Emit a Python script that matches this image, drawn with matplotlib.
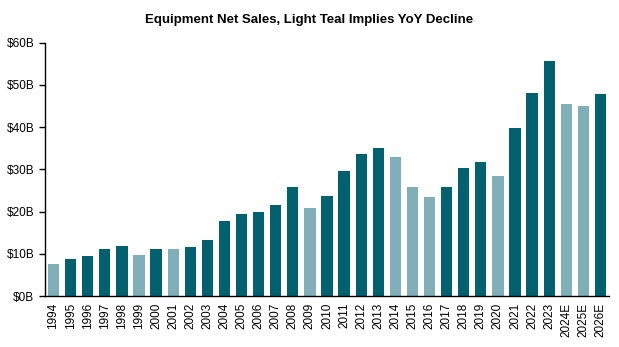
import matplotlib
matplotlib.use("Agg")
import matplotlib.pyplot as plt

plt.rcParams['font.family'] = ['Liberation Sans', 'DejaVu Sans']

years = ["1994", "1995", "1996", "1997", "1998", "1999", "2000", "2001", "2002", "2003",
         "2004", "2005", "2006", "2007", "2008", "2009", "2010", "2011", "2012", "2013",
         "2014", "2015", "2016", "2017", "2018", "2019", "2020", "2021", "2022", "2023",
         "2024E", "2025E", "2026E"]
sales = [7.6, 8.8, 9.5, 11.1, 11.8, 9.7, 11.1, 11.1, 11.6, 13.3,
         17.8, 19.4, 19.9, 21.6, 25.8, 20.9, 23.7, 29.6, 33.6, 35.1,
         32.9, 25.8, 23.5, 25.8, 30.3, 31.8, 28.4, 39.8, 48.1, 55.7,
         45.5, 45.0, 47.9]
decline = [True, False, False, False, False, True, False, True, False, False,
           False, False, False, False, False, True, False, False, False, False,
           True, True, True, False, False, False, True, False, False, False,
           True, True, False]
yticks = [0, 10, 20, 30, 40, 50, 60]

DARK = "#03616F"
LIGHT = "#80AFBA"

fig = plt.figure(figsize=(6.19, 3.47), dpi=100)
ax = fig.add_axes([45/619, 1 - 296/347, (609-45)/619, (296-42.7)/347])

x = list(range(len(years)))
colors = [LIGHT if d else DARK for d in decline]
ax.bar(x, sales, width=0.66, color=colors, zorder=2)

ax.set_xlim(-0.5, len(years) - 0.5)
ax.set_ylim(0, 60)
ax.set_yticks(yticks)
ax.set_yticklabels([f"${v}B" for v in yticks], fontsize=8.5)
ax.set_xticks(x)
ax.set_xticklabels(years, rotation=90, fontsize=8.5)
ax.tick_params(axis='x', length=0, pad=5)
ax.tick_params(axis='y', length=4.3, width=1, direction='out', pad=3.5)

for s in ['top', 'right']:
    ax.spines[s].set_visible(False)
ax.spines['left'].set_linewidth(1)
ax.spines['bottom'].set_linewidth(1)

fig.text(0.5, 1 - 19.5/347, "Equipment Net Sales, Light Teal Implies YoY Decline",
         ha='center', va='center', fontsize=9.5, fontweight='bold')

fig.savefig("out.png", dpi=100)
